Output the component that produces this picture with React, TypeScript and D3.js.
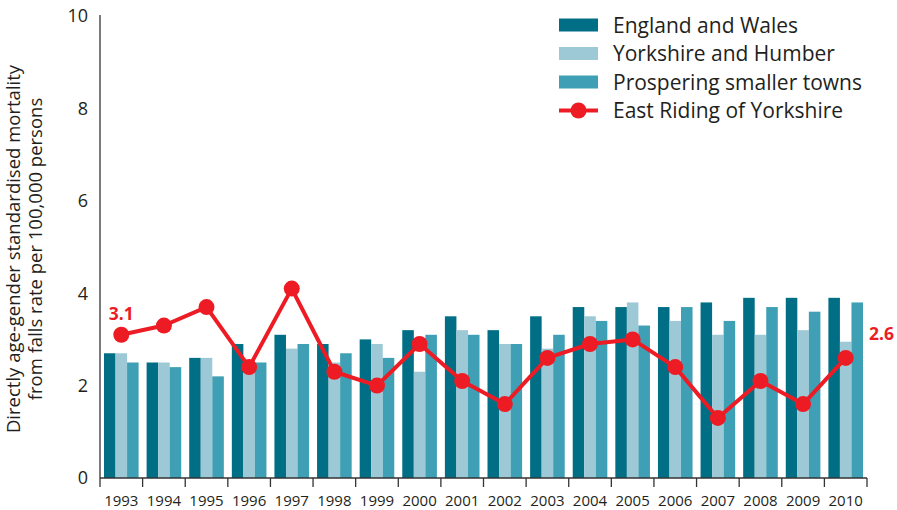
import React from "react";
import * as d3 from "d3";

const years = ["1993","1994","1995","1996","1997","1998","1999","2000","2001","2002","2003","2004","2005","2006","2007","2008","2009","2010"];
const englandWales = [2.7,2.5,2.6,2.9,3.1,2.9,3.0,3.2,3.5,3.2,3.5,3.7,3.7,3.7,3.8,3.9,3.9,3.9];
const yorkshireHumber = [2.7,2.5,2.6,2.5,2.8,2.5,2.9,2.3,3.2,2.9,2.8,3.5,3.8,3.4,3.1,3.1,3.2,2.95];
const prosperingTowns = [2.5,2.4,2.2,2.5,2.9,2.7,2.6,3.1,3.1,2.9,3.1,3.4,3.3,3.7,3.4,3.7,3.6,3.8];
const eastRiding = [3.1,3.3,3.7,2.4,4.1,2.3,2.0,2.9,2.1,1.6,2.6,2.9,3.0,2.4,1.3,2.1,1.6,2.6];
const yTicks = [0,2,4,6,8,10];
const seriesNames = ["England and Wales","Yorkshire and Humber","Prospering smaller towns","East Riding of Yorkshire"];

const colors = ["#006f86", "#9dc8d5", "#3f9fb4"];
const red = "#ed1c24";
const textColor = "#231f20";
const font = "'Open Sans', sans-serif";

export default function App() {
  const W = 897, H = 510;
  const left = 100, right = 867, top = 16, bottom = 478;
  const x = d3.scaleBand<string>().domain(years).range([left, right]).paddingInner(0).paddingOuter(0);
  const inner = d3.scaleBand<number>().domain([0,1,2]).range([4, x.bandwidth() - 4]);
  const y = d3.scaleLinear().domain([0, 10]).range([bottom, top]);
  const bars = [englandWales, yorkshireHumber, prosperingTowns];
  const cx = (i: number) => x(years[i])! + x.bandwidth() / 2;
  const line = d3.line<number>().x((_, i) => cx(i)).y(d => y(d));
  const boundaries = years.map(yr => x(yr)!).concat([right]);
  const last = eastRiding.length - 1;

  return (
    <svg width={W} height={H} style={{ position: "absolute", left: 0, top: 0, background: "#fff" }} fontFamily={font}>
      {bars.map((vals, s) => (
        <g key={s}>
          {vals.map((v, i) => (
            <rect key={i} x={x(years[i])! + inner(s)!} y={y(v)} width={inner.bandwidth()} height={bottom - y(v)} fill={colors[s]} />
          ))}
        </g>
      ))}
      {/* axes */}
      <line x1={left} x2={left} y1={top - 1} y2={bottom} stroke="#333" strokeWidth={1.3} />
      <line x1={left} x2={right} y1={bottom} y2={bottom} stroke="#333" strokeWidth={1.3} />
      {boundaries.map((b, i) => (
        <line key={i} x1={b} x2={b} y1={bottom} y2={bottom + 9} stroke="#333" strokeWidth={1.3} />
      ))}
      {yTicks.map(t => (
        <text key={t} x={88} y={y(t)} dy="0.36em" textAnchor="end" fontSize={18} fill={textColor}>{t}</text>
      ))}
      {years.map(yr => (
        <text key={yr} x={x(yr)! + x.bandwidth() / 2} y={506} textAnchor="middle" fontSize={15} fill={textColor}>{yr}</text>
      ))}
      <g transform={`translate(20, 249) rotate(-90)`}>
        <text textAnchor="middle" fontSize={18.5} fill={textColor}>
          <tspan x={0} dy={0}>Directly age-gender standardised mortality</tspan>
          <tspan x={0} dy={22}>from falls rate per 100,000 persons</tspan>
        </text>
      </g>
      {/* line */}
      <path d={line(eastRiding)!} fill="none" stroke={red} strokeWidth={4} strokeLinejoin="round" />
      {eastRiding.map((v, i) => (
        <circle key={i} cx={cx(i)} cy={y(v)} r={8} fill={red} />
      ))}
      <text x={cx(0)} y={y(eastRiding[0]) - 15} textAnchor="middle" fontSize={17.5} fontWeight="bold" fill={red}>{eastRiding[0].toFixed(1)}</text>
      <text x={869} y={y(eastRiding[last]) - 18} fontSize={17.5} fontWeight="bold" fill={red}>{eastRiding[last].toFixed(1)}</text>
      {/* legend */}
      {seriesNames.map((name, i) => {
        const ly = 25 + i * 28.5;
        return (
          <g key={name}>
            {i < 3 ? (
              <rect x={559} y={ly - 6.5} width={39} height={13} fill={colors[i]} />
            ) : (
              <g>
                <line x1={559} x2={598} y1={ly} y2={ly} stroke={red} strokeWidth={4} />
                <circle cx={578.5} cy={ly} r={8} fill={red} />
              </g>
            )}
            <text x={613} y={ly} dy="0.36em" fontSize={21} fill={textColor}>{name}</text>
          </g>
        );
      })}
    </svg>
  );
}
